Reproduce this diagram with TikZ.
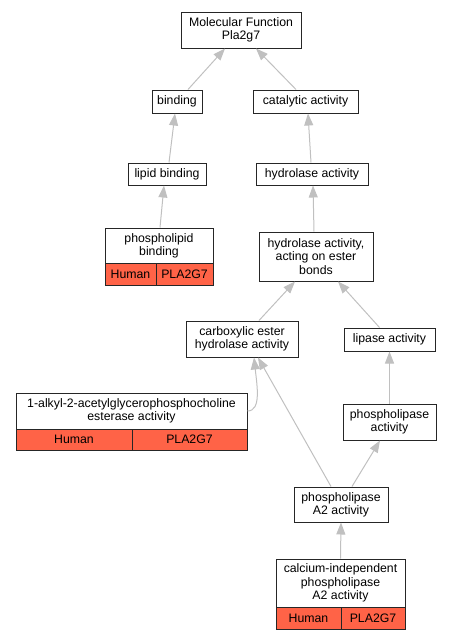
\documentclass[tikz,border=0pt]{standalone}
\usepackage{fontspec}
\setmainfont{Liberation Sans}
\usetikzlibrary{
    arrows.meta,
    positioning,
    calc}
\definecolor{genered}{RGB}{255,99,71}
\definecolor{edgegray}{RGB}{192,192,192}
\tikzset{
  term/.style={draw=black!85, line width=1pt, fill=white, align=center,
    inner sep=0pt, font=\fontsize{12.3}{13.3}\selectfont},
  gene/.style={term, fill=genered},
  isa/.style={draw=edgegray, line width=1pt, -{Triangle[width=9pt,length=12pt]}}
}

\begin{document}
\begin{tikzpicture}[x=1pt,y=-1pt]
    \useasboundingbox (0,0) rectangle (452,640);
    % terms
    \node[term, minimum width=120pt, minimum height=36pt] (mf) at (241,30) {Molecular Function\\Pla2g7};
    \node[term, minimum width=50pt, minimum height=23pt] (bind) at (177,101.5) {binding};
    \node[term, minimum width=105pt, minimum height=23pt] (cat) at (305.5,101.5) {catalytic activity};
    \node[term, minimum width=78pt, minimum height=22pt] (lipbind) at (167,174) {lipid binding};
    \node[term, minimum width=112pt, minimum height=22pt] (hydro) at (312,174) {hydrolase activity};
    \node[term, minimum width=108pt, minimum height=35pt] (plbind) at (159,245.5) {phospholipid\\binding};
    \node[gene, minimum width=51pt, minimum height=22pt] (plbindsp) at (130.5,274) {Human};
    \node[gene, minimum width=57pt, minimum height=22pt] (plbindgn) at (184.5,274) {PLA2G7};
    \node[term, minimum width=114pt, minimum height=49pt] (ester) at (316,256.5) {hydrolase activity,\\acting on ester\\bonds};
    \node[term, minimum width=112pt, minimum height=36pt] (carb) at (242,339) {carboxylic ester\\hydrolase activity};
    \node[term, minimum width=91pt, minimum height=23pt] (lipase) at (389.5,339.5) {lipase activity};
    \node[term, minimum width=231pt, minimum height=36pt] (alkyl) at (131.5,411) {1-alkyl-2-acetylglycerophosphocholine\\esterase activity};
    \node[gene, minimum width=116pt, minimum height=21pt] (alkylsp) at (74,439.5) {Human};
    \node[gene, minimum width=115pt, minimum height=21pt] (alkylgn) at (189.5,439.5) {PLA2G7};
    \node[term, minimum width=93pt, minimum height=36pt] (pla) at (389.5,422) {phospholipase\\activity};
    \node[term, minimum width=94pt, minimum height=35pt] (plaa2) at (341,504.5) {phospholipase\\A2 activity};
    \node[term, minimum width=129pt, minimum height=48pt] (calc) at (340.5,583) {calcium-independent\\phospholipase\\A2 activity};
    \node[gene, minimum width=65pt, minimum height=22pt] (calcsp) at (308.5,618) {Human};
    \node[gene, minimum width=64pt, minimum height=22pt] (calcgn) at (373,618) {PLA2G7};
    % is-a edges
    \draw[isa] ($(bind.north)+(11,0)$) -- ($(mf.south)+(-16,0)$);
    \draw[isa] ($(cat.north)+(-9.5,0)$) -- ($(mf.south)+(15,0)$);
    \draw[isa] ($(lipbind.north)+(2,0)$) -- ($(bind.south)+(-2,0)$);
    \draw[isa] ($(hydro.north)+(-1,0)$) -- ($(cat.south)+(2.5,0)$);
    \draw[isa] ($(plbind.north)+(1,0)$) -- ($(lipbind.south)+(-3,0)$);
    \draw[isa] ($(ester.north)+(-2,0)$) -- ($(hydro.south)+(1,0)$);
    \draw[isa] ($(carb.north)+(17,0)$) -- ($(ester.south)+(-21,0)$);
    \draw[isa] ($(lipase.north)+(-10,0)$) -- ($(ester.south)+(22,0)$);
    \draw[isa] (alkyl.east) .. controls +(14,0) and +(3,28) .. ($(carb.south)+(12,0)$);
    \draw[isa] ($(plaa2.north)+(-10,0)$) -- ($(carb.south)+(16,0)$);
    \draw[isa] ($(plaa2.north)+(11,0)$) -- ($(pla.south)+(-9.5,0)$);
    \draw[isa] (pla.north) -- (lipase.south);
    \draw[isa] (calc.north) -- (plaa2.south);
\end{tikzpicture}
\end{document}
